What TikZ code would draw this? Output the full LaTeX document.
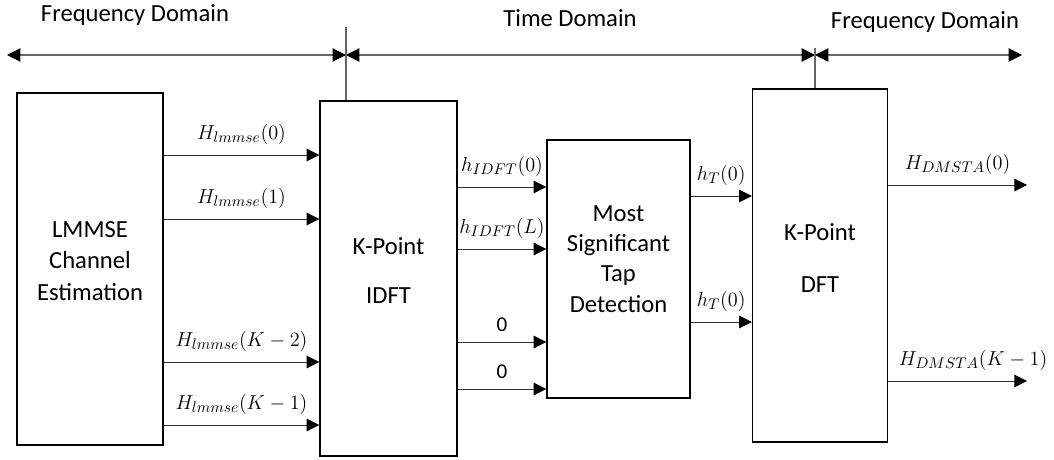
\documentclass[tikz,border=0pt]{standalone}
\usepackage{fontspec}
\setmainfont{Carlito}
\usepackage{amsmath}
\DeclareMathSizes{15}{15}{11}{8}
\usetikzlibrary{arrows.meta,positioning,calc}

\begin{document}
\begin{tikzpicture}[
    x=0.025cm, y=-0.025cm,
    font=\fontsize{17.5}{22.5}\selectfont,
    blk/.style={rectangle, draw, line width=1pt, inner sep=0pt},
    txt/.style={align=center, inner sep=0pt},
    sig/.style={draw=black!80, line width=0.7pt, -{Triangle[length=9pt, width=9pt, color=black]}},
    dom/.style={draw=black!60, line width=0.8pt, {Triangle[length=9.5pt, width=9.5pt, color=black]}-{Triangle[length=9.5pt, width=9.5pt, color=black]}},
    lab/.style={above=4pt, font=\fontsize{15}{18}\selectfont}
]
\useasboundingbox (0,0) rectangle (1054,460);

% domain axis
\coordinate (fl) at (7,55);
\coordinate (b1) at (346,55);
\coordinate (b2) at (815,55);
\coordinate (fr) at (1022,55);
\coordinate (t1) at (346,27);
\coordinate (t2) at (815,48);

\node (fd1) at (135,15) {Frequency Domain};
\node (td) at (570,18) {Time Domain};
\node (fd2) at (925,22) {Frequency Domain};

\draw[dom] (fl) -- (b1);
\draw[dom] (b1) -- (b2);
\draw[dom] (b2) -- (fr);

% blocks
\node (lmmse) at (90,269) [blk, minimum width=3.65cm, minimum height=8.8cm] {};
\node (idft) at (388.5,278.5) [blk, minimum width=3.425cm, minimum height=8.875cm] {};
\node (tap) at (618.5,269) [blk, minimum width=3.575cm, minimum height=6.45cm] {};
\node (dft) at (820,265.5) [blk, minimum width=3.375cm, minimum height=8.825cm] {};

% block captions
\node (lmmset) at ($(lmmse.center)+(0,-8)$) [txt] {LMMSE\\Channel\\Estimation};
\node (idftt) at ($(idft.center)+(0,-8)$) [txt] {K-Point\\[13pt]IDFT};
\node (tapt) at ($(tap.center)+(0,-10)$) [txt, font=\fontsize{17.5}{21.5}\selectfont] {Most\\Significant\\Tap\\Detection};
\node (dftt) at ($(dft.center)+(0,-7)$) [txt] {K-Point\\[14.5pt]DFT};

% boundaries between domains
\draw[draw=black!60, line width=0.8pt] (t1) -- (idft.north -| t1);
\draw[draw=black!60, line width=0.8pt] (t2) -- (dft.north -| t2);

% LMMSE -> IDFT
\foreach \y/\txt in {155/$H_{lmmse}(0)$, 219/$H_{lmmse}(1)$, 362/$H_{lmmse}(K-2)$, 425/$H_{lmmse}(K-1)$} {
  \draw[sig] (lmmse.east |- 0,\y) -- node[lab] {\txt} (idft.west |- 0,\y);
}

% IDFT -> tap detection
\foreach \y/\txt in {187/$h_{IDFT}(0)$, 249/$h_{IDFT}(L)$, 342/0, 389/0} {
  \draw[sig] (idft.east |- 0,\y) -- node[lab] {\txt} (tap.west |- 0,\y);
}

% tap detection -> DFT
\foreach \y/\txt in {196/$h_T(0)$, 322/$h_T(0)$} {
  \draw[sig] (tap.east |- 0,\y) -- node[lab] {\txt} (dft.west |- 0,\y);
}

% DFT outputs
\coordinate (o1) at (1027,185);
\coordinate (o2) at (1027,381);
\draw[sig] (dft.east |- o1) -- node[lab] {$H_{DMSTA}(0)$} (o1);
\draw[sig] (dft.east |- o2) -- node[lab, xshift=11pt] {$H_{DMSTA}(K-1)$} (o2);

\end{tikzpicture}
\end{document}
